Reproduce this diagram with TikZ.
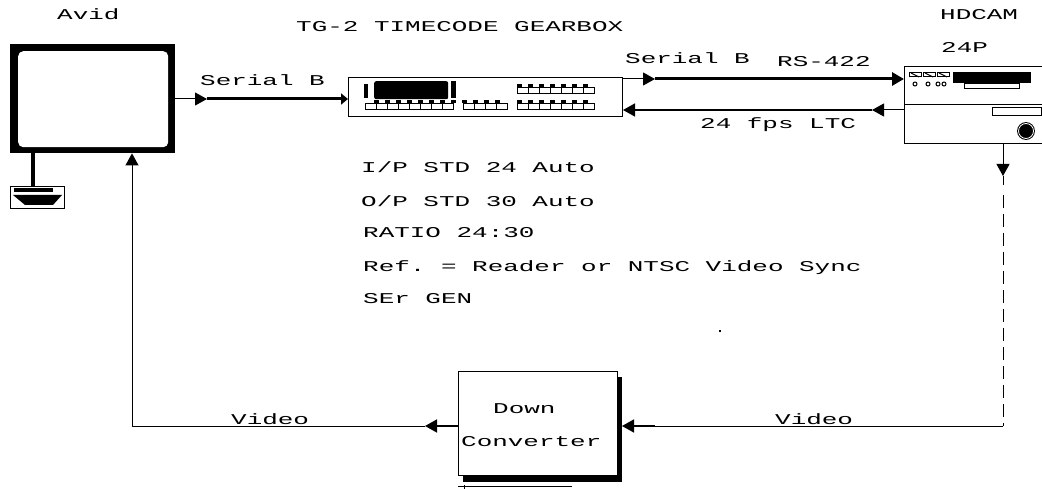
\documentclass[tikz,border=0pt]{standalone}
\usepackage{fontspec}
\setmonofont[FakeStretch=1.73]{Liberation Mono}
\usetikzlibrary{arrows.meta, positioning}

% row of front-panel keys: x, y, number of keys, offset of the first dot
\newcommand{\keyrow}[4]{
  \foreach \k in {1,...,#3} {
    \draw[keyline] ({#1+(\k-1)*11},#2) rectangle ({#1+\k*11},#2+6);
  }
  \foreach \k in {1,...,#3} {
    \ifnum\k<#3\relax\else\ifnum#4=0\relax\else\breakforeach\fi\fi
    \fill ({#1+#4+(\k-1)*11-2.5},#2-3.5) rectangle ({#1+#4+(\k-1)*11+2.5},#2-1);
    \draw[keyline] ({#1+#4+(\k-1)*11},#2-1) -- ({#1+#4+(\k-1)*11},#2);
  }
}

\begin{document}
\begin{tikzpicture}[
    x=1pt, y=-1pt,
    panel/.style={draw, line width=1pt, fill=white, inner sep=0pt, anchor=north west},
    solid block/.style={fill=black, inner sep=0pt, anchor=north west},
    label/.style={font=\ttfamily\fontsize{15}{15}\selectfont, inner sep=0pt, anchor=base west},
    wire/.style={line width=1pt},
    medium/.style={line width=1.6pt},
    heavy/.style={line width=3pt},
    keyline/.style={line width=1pt},
    >={Triangle[length=12pt, width=13pt]}]
  \useasboundingbox (0,0) rectangle (1042,489);

  % Avid monitor and keyboard
  \node[solid block, minimum width=165pt, minimum height=109pt] (avid) at (10,44) {};
  \node[solid block, fill=white, rounded corners=5pt, minimum width=150pt, minimum height=96pt] (screen) at (18,51) {};
  \node[panel, minimum width=54pt, minimum height=22pt] (kbd) at (10,186) {};
  \draw[line width=4pt] (33,153) -- (33,187);
  \fill (14,188.5) rectangle (53,192);
  \fill (13,195) -- (62,195) -- (53,205) -- (25,205) -- cycle;

  % gearbox
  \node[panel, minimum width=274pt, minimum height=39pt] (gear) at (348,77) {};
  \node[solid block, rounded corners=2pt, minimum width=74pt, minimum height=18pt] (display) at (374,81) {};
  \fill (364,84) rectangle (368,98);
  \fill (451,81) rectangle (456,98);
  \keyrow{365}{104}{8}{11}
  \keyrow{463}{104}{4}{1}
  \keyrow{517}{104}{7}{2}
  \keyrow{517}{88}{7}{2}

  % HDCAM deck, runs off the page
  \node[panel, minimum width=142pt, minimum height=77pt] (hdcam) at (904,66) {};
  \draw[line width=1pt] (hdcam.west) -- (hdcam.east);
  \foreach \x in {909,923,937} {
    \draw[keyline] (\x,73) rectangle (\x+12,77);
    \draw[keyline] (\x+2,73) -- (\x+10,77);
  }
  \foreach \x in {915,928,938,944} {
    \draw[keyline] (\x,84) circle (2pt);
  }
  \node[solid block, minimum width=78pt, minimum height=11pt] (tape) at (953,72) {};
  \node[panel, minimum width=55pt, minimum height=5pt] (tray) at (964,83) {};
  \node[panel, minimum width=49pt, minimum height=8pt] (slot) at (992,107) {};
  \node[circle, draw, fill=black, line width=1pt, double=white, double distance=0.8pt,
        minimum size=15pt, inner sep=0pt] (knob) at (1026,131) {};

  % down converter
  \node[solid block, minimum width=159pt, minimum height=105pt] (dcshadow) at (463,377) {};
  \node[panel, minimum width=159pt, minimum height=104pt] (dc) at (458,371) {};
  \coordinate (stray) at (458,486);
  \draw[wire] (stray) -- ++(114,0);
  \draw[wire] (464,485) -- (464,489);
  \fill (718.5,329.5) rectangle (720.5,331.5);

  % connectors
  \coordinate (sl) at (207,99);
  \coordinate (sr) at (655,79);
  \coordinate (ltc) at (872,110);
  \coordinate (vtap) at (1003,176);
  \coordinate (vdash) at (1003,195);
  \coordinate (vcorner) at (1003,426);
  \coordinate (vr) at (655,426);
  \coordinate (vtip) at (622,426);
  \coordinate (vl) at (425,426);
  \coordinate (vback) at (132,426);
  \draw[wire, ->] (avid.east |- sl) -- (sl);
  \draw[heavy, -{Triangle[length=7pt, width=11pt]}] (sl) -- (gear.west |- sl);
  \draw[wire, ->] (gear.east |- sr) -- (sr);
  \draw[heavy, ->] (sr) -- (hdcam.west |- sr);
  \draw[wire, ->] (hdcam.west |- ltc) -- (ltc);
  \draw[medium, ->] (ltc) -- (gear.east |- ltc);
  \draw[wire, ->] (hdcam.south -| vtap) -- (vtap);
  \draw[wire] (vtap) -- (1003,185);
  \draw[wire, dash pattern=on 13pt off 6pt] (vdash) -- (vcorner);
  \draw[wire] (vcorner) -- (vr);
  \draw[medium, ->] (vr) -- (vtip);
  \draw[medium, ->] (dc.west |- vl) -- (vl);
  \draw[wire, ->] (vl) -- (vback) -- (vback |- avid.south);

  % labels
  \node[label] (lavid) at (57,20) {Avid};
  \node[label] (ltitle) at (296,32) {TG-2 TIMECODE GEARBOX};
  \node[label] (lhdcam) at (940,20) {HDCAM};
  \node[label] (l24p) at (941,53) {24P};
  \node[label] (lserl) at (200,86) {Serial B};
  \node[label] (lserr) at (625,64) {Serial B};
  \node[label] (lrs) at (777,67) {RS-422};
  \node[label] (lltc) at (700,129) {24 fps LTC};
  \node[label] (lip) at (361,173) {I/P STD 24 Auto};
  \node[label] (lop) at (361,207) {O/P STD 30 Auto};
  \node[label] (lratio) at (363,238) {RATIO 24:30};
  \node[label] (lref) at (363,272) {Ref. = Reader or NTSC Video Sync};
  \node[label] (lser) at (363,304) {SEr GEN};
  \node[label] (lvidl) at (231,424) {Video};
  \node[label] (lvidr) at (775,424) {Video};
  \node[label] (ldown) at (493,413) {Down};
  \node[label] (lconv) at (461,446) {Converter};
\end{tikzpicture}
\end{document}
